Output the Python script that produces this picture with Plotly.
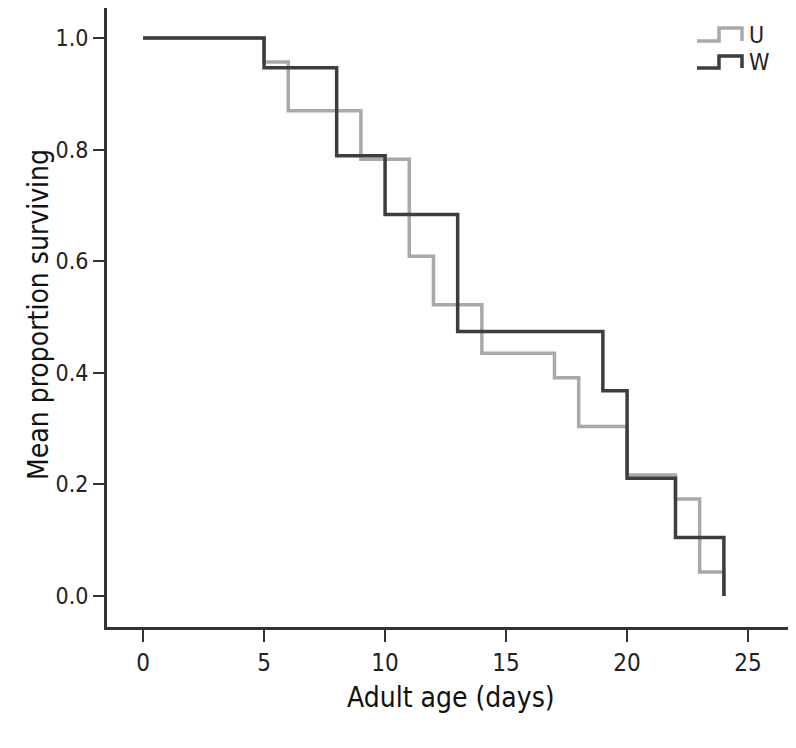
import plotly.graph_objects as go

# Data (Kaplan-Meier style step curves)
u_days = [0, 5, 6, 9, 11, 12, 14, 17, 18, 20, 22, 23, 24]
u_surv = [1.0, 0.957, 0.870, 0.783, 0.609, 0.522, 0.435, 0.391, 0.304, 0.217, 0.174, 0.043, 0.0]
w_days = [0, 5, 8, 10, 13, 19, 20, 22, 24]
w_surv = [1.0, 0.947, 0.789, 0.684, 0.474, 0.368, 0.211, 0.105, 0.0]

x_ticks = [0, 5, 10, 15, 20, 25]
y_ticks = [0.0, 0.2, 0.4, 0.6, 0.8, 1.0]
y_tick_labels = ["0.0", "0.2", "0.4", "0.6", "0.8", "1.0"]

U_COLOR = "#a9a9a9"
W_COLOR = "#3d3d3d"
FONT = "DejaVu Sans Condensed, Liberation Sans, Arial, sans-serif"

fig = go.Figure()
fig.add_trace(go.Scatter(x=u_days, y=u_surv, mode="lines", line_shape="hv",
                         line=dict(color=U_COLOR, width=3.5), name="U", showlegend=False))
fig.add_trace(go.Scatter(x=w_days, y=w_surv, mode="lines", line_shape="hv",
                         line=dict(color=W_COLOR, width=3.5), name="W", showlegend=False))

# page has an 8px body margin; figure is sized so the plot area lands where the reference has it
OFF = 8
W_FIG, H_FIG = 788, 740
L, R, T, B = 99, 0, 0, 121
pw, ph = W_FIG - L - R, H_FIG - T - B


def px(x_page):
    return (x_page - OFF - L) / pw


def py(y_page):
    return 1 - (y_page - OFF - T) / ph


def step_icon(x0, x1, x2, ylow, yhigh):
    return f"M {x0} {ylow} L {x1} {ylow} L {x1} {yhigh} L {x2} {yhigh} L {x2} {ylow}"


shapes = [
    dict(type="path", xref="paper", yref="paper",
         path=step_icon(px(697), px(719), px(742), py(41), py(28)),
         line=dict(color=U_COLOR, width=3.5)),
    dict(type="path", xref="paper", yref="paper",
         path=step_icon(px(697), px(719), px(742), py(68), py(56)),
         line=dict(color=W_COLOR, width=3.5)),
]
annotations = [
    dict(text="U", xref="paper", yref="paper", x=px(747), y=py(35), xanchor="left", yanchor="middle",
         showarrow=False, font=dict(family=FONT, size=23, color="#222")),
    dict(text="W", xref="paper", yref="paper", x=px(747), y=py(62), xanchor="left", yanchor="middle",
         showarrow=False, font=dict(family=FONT, size=23, color="#222")),
    dict(text="Adult age (days)", xref="paper", yref="paper", x=px(451), y=py(697),
         xanchor="center", yanchor="middle", showarrow=False,
         font=dict(family=FONT, size=28, color="#111")),
    dict(text="Mean proportion surviving", xref="paper", yref="paper", x=px(38), y=py(315),
         xanchor="center", yanchor="middle", showarrow=False, textangle=-90,
         font=dict(family=FONT, size=28, color="#111")),
]

fig.update_layout(
    width=W_FIG, height=H_FIG,
    margin=dict(l=L, r=R, t=T, b=B),
    paper_bgcolor="white", plot_bgcolor="white",
    shapes=shapes, annotations=annotations,
    showlegend=False,
    xaxis=dict(range=[-1.49, 26.98], tickvals=x_ticks, ticks="outside", ticklen=12,
               tickwidth=1.5, tickcolor="#333", showline=True, linewidth=3, linecolor="#333",
               showgrid=False, zeroline=False,
               tickfont=dict(family=FONT, size=24, color="#222")),
    yaxis=dict(range=[-0.0556, 1.054], tickvals=y_ticks, ticktext=y_tick_labels,
               ticks="outside", ticklen=11, tickwidth=1.5, tickcolor="#333",
               showline=True, linewidth=3, linecolor="#333",
               showgrid=False, zeroline=False,
               tickfont=dict(family=FONT, size=23, color="#222")),
)

fig.write_html("out.html")
